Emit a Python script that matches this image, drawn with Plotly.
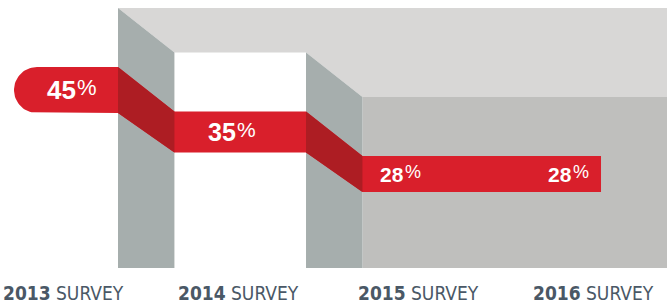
import numpy as np
import plotly.graph_objects as go

# ---------------- data ----------------
SURVEY_YEARS = ["2013", "2014", "2015", "2016"]
SURVEY_WORD = "SURVEY"
VALUES = [45, 35, 28, 28]

# ---------------- style ----------------
RED = "#d91f2b"
DARK_RED = "#ad1d23"
BAR_GRAY = "#a6aead"
TOP_GRAY = "#d8d7d6"
WALL_GRAY = "#bfbfbd"
LABEL_COLOR = "#4a5866"

XR = [-0.2777, 3.270]        # x axis range (column units)
YR = [5.0714, -2.1429]       # y axis range (level units, reversed)
TR_A, TR_B = 0.35, 0.65      # transition span after each column
BAND_START = -0.2032
BAND_END = 2.919
CAP_RX = 0.1223
GRAY_LIFT = 1.405
GRAY_BOTTOM = 4.238
LABEL_Y = 4.833
SPLIT_SHIFT = [25, -3, -23, -43]     # px, digits | percent boundary
LABEL_SHIFT = [11, -2, -10, -23]
DIGIT_SIZE = [26, 25, 21]
PCT_SIZE = [22, 21, 18]
NUM_FONT = "Liberation Sans, Arial, sans-serif"

n = len(VALUES)
levels = sorted(set(VALUES), reverse=True)
ranks = [levels.index(v) for v in VALUES]


def half(r):
    return 0.548 - 0.06 * r


def top(r):
    return r - half(r)


def bot(r):
    return r + half(r)


def gray_level(r):
    return top(r) - GRAY_LIFT


transitions = [(i + TR_A, i + TR_B, ranks[i], ranks[i + 1])
               for i in range(n - 1) if ranks[i + 1] != ranks[i]]


def path(pts):
    return "M " + " L ".join(f"{x:.4f},{y:.4f}" for x, y in pts) + " Z"


shapes = []
# light top surface
r0, rl = ranks[0], ranks[-1]
pts = [(transitions[0][0], gray_level(r0)), (XR[1], gray_level(r0)), (XR[1], gray_level(rl))]
for xa, xb, ra, rb in reversed(transitions):
    pts.append((xb, gray_level(rb)))
    pts.append((xa, gray_level(ra)))
shapes.append(dict(type="path", path=path(pts), fillcolor=TOP_GRAY, line=dict(width=0), layer="below"))
# back wall after last step
last_xb = transitions[-1][1]
shapes.append(dict(type="path", path=path([(last_xb, gray_level(rl)), (XR[1], gray_level(rl)),
                                            (XR[1], GRAY_BOTTOM), (last_xb, GRAY_BOTTOM)]),
                   fillcolor=WALL_GRAY, line=dict(width=0), layer="below"))
# step bars
for xa, xb, ra, rb in transitions:
    shapes.append(dict(type="path", path=path([(xa, gray_level(ra)), (xb, gray_level(rb)),
                                                (xb, GRAY_BOTTOM), (xa, GRAY_BOTTOM)]),
                       fillcolor=BAR_GRAY, line=dict(width=0), layer="below"))

fig = go.Figure()

# red band
tp = [(BAND_START + CAP_RX, top(r0))]
bp = [(BAND_START + CAP_RX, bot(r0))]
for xa, xb, ra, rb in transitions:
    tp += [(xa, top(ra)), (xb, top(rb))]
    bp += [(xa, bot(ra)), (xb, bot(rb))]
tp.append((BAND_END, top(rl)))
bp.append((BAND_END, bot(rl)))
t = np.linspace(0, np.pi, 40)
arc = [(BAND_START + CAP_RX - CAP_RX * np.sin(a), r0 + half(r0) * np.cos(a)) for a in t]
poly = tp + bp[::-1] + arc
fig.add_trace(go.Scatter(x=[p[0] for p in poly], y=[p[1] for p in poly], mode="lines",
                         fill="toself", fillcolor=RED, line=dict(width=0, color=RED),
                         hoverinfo="skip", showlegend=False))
# darker slanted parts
for xa, xb, ra, rb in transitions:
    q = [(xa, top(ra)), (xb, top(rb)), (xb, bot(rb)), (xa, bot(ra)), (xa, top(ra))]
    fig.add_trace(go.Scatter(x=[p[0] for p in q], y=[p[1] for p in q], mode="lines",
                             fill="toself", fillcolor=DARK_RED, line=dict(width=0, color=DARK_RED),
                             hoverinfo="skip", showlegend=False))

annotations = []
for i, v in enumerate(VALUES):
    r = ranks[i]
    annotations.append(dict(
        x=i, y=r, xref="x", yref="y", xshift=SPLIT_SHIFT[i], showarrow=False,
        text=f"<b>{v}</b>",
        font=dict(family=NUM_FONT, size=DIGIT_SIZE[r], color="white"),
        xanchor="right", yanchor="middle", borderpad=0))
    annotations.append(dict(
        x=i, y=r, xref="x", yref="y", xshift=SPLIT_SHIFT[i] - 1, yshift=round(PCT_SIZE[r] * 0.13),
        showarrow=False, text="%",
        font=dict(family=NUM_FONT, size=PCT_SIZE[r], color="white"),
        xanchor="left", yanchor="middle", borderpad=0))
    annotations.append(dict(
        x=i, y=LABEL_Y, xref="x", yref="y", xshift=LABEL_SHIFT[i], showarrow=False,
        text=f"<b>{SURVEY_YEARS[i]}</b> {SURVEY_WORD}",
        font=dict(family="Liberation Sans Narrow, DejaVu Sans Condensed, sans-serif", size=19,
                  color=LABEL_COLOR),
        xanchor="center", yanchor="middle"))

fig.update_layout(
    width=667, height=303, margin=dict(l=0, r=0, t=0, b=0),
    paper_bgcolor="white", plot_bgcolor="white",
    xaxis=dict(range=XR, visible=False, fixedrange=True),
    yaxis=dict(range=YR, visible=False, fixedrange=True),
    shapes=shapes, annotations=annotations, showlegend=False,
)

fig.write_html("out.html", config={"displayModeBar": False},
               post_script="document.body.style.margin='0';document.body.style.overflow='hidden';")
